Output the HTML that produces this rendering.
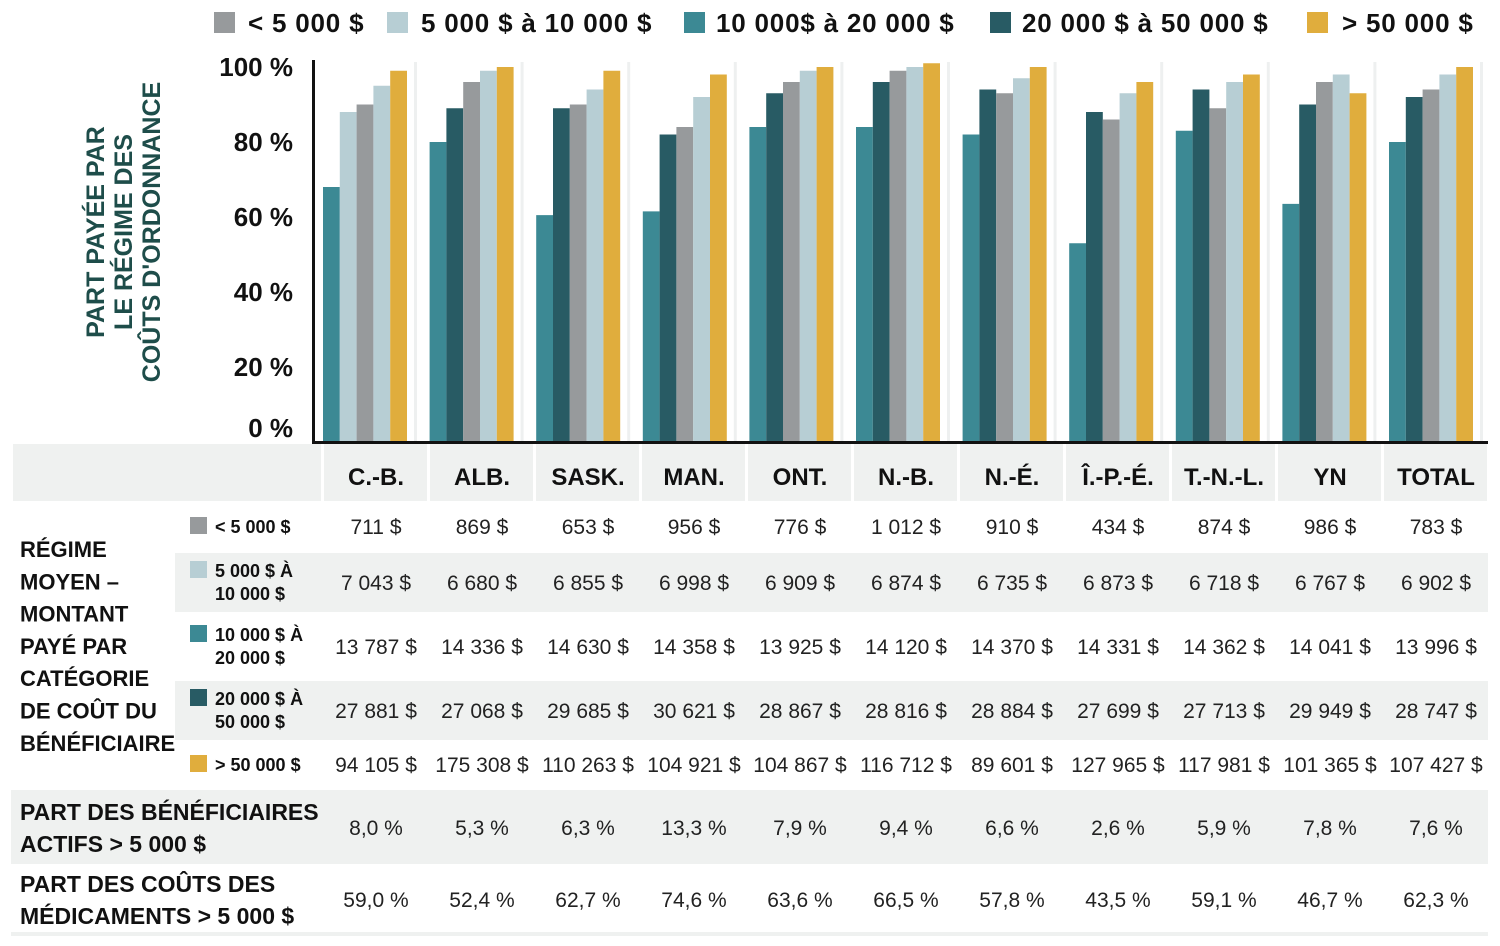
<!DOCTYPE html>
<html><head><meta charset="utf-8"><style>
html,body{margin:0;padding:0;background:#fff;}
svg{display:block;font-family:"Liberation Sans",sans-serif;}
.lbl{font-weight:bold;fill:#111;}
.val{fill:#222;font-size:21px;}
</style></head><body>
<svg id="chart" width="1500" height="946" viewBox="0 0 1500 946"></svg>
<script>
const categories=["C.-B.","ALB.","SASK.","MAN.","ONT.","N.-B.","N.-É.","Î.-P.-É.","T.-N.-L.","YN","TOTAL"];
const seriesNames=["10 000$ à 20 000 $","20 000 $ à 50 000 $","< 5 000 $","5 000 $ à 10 000 $","> 50 000 $"];
const s10to20=[68,80,60.5,61.5,84,84,82,53,83,63.5,80];
const s20to50=[88,89,89,82,93,96,94,88,94,90,92];
const sLt5000=[90,96,90,84,96,99,93,86,89,96,94];
const s5to10=[95,99,94,92,99,100,97,93,96,98,98];
const sGt50=[99,100,99,98,100,101,100,96,98,93,100];
const yTicks=[0,20,40,60,80,100];
const rowLt5=["711 $","869 $","653 $","956 $","776 $","1 012 $","910 $","434 $","874 $","986 $","783 $"];
const row5to10=["7 043 $","6 680 $","6 855 $","6 998 $","6 909 $","6 874 $","6 735 $","6 873 $","6 718 $","6 767 $","6 902 $"];
const row10to20=["13 787 $","14 336 $","14 630 $","14 358 $","13 925 $","14 120 $","14 370 $","14 331 $","14 362 $","14 041 $","13 996 $"];
const row20to50=["27 881 $","27 068 $","29 685 $","30 621 $","28 867 $","28 816 $","28 884 $","27 699 $","27 713 $","29 949 $","28 747 $"];
const rowGt50=["94 105 $","175 308 $","110 263 $","104 921 $","104 867 $","116 712 $","89 601 $","127 965 $","117 981 $","101 365 $","107 427 $"];
const rowBenef=["8,0 %","5,3 %","6,3 %","13,3 %","7,9 %","9,4 %","6,6 %","2,6 %","5,9 %","7,8 %","7,6 %"];
const rowCouts=["59,0 %","52,4 %","62,7 %","74,6 %","63,6 %","66,5 %","57,8 %","43,5 %","59,1 %","46,7 %","62,3 %"];

const C={teal:"#3c8994",dark:"#285b64",gray:"#979a9c",light:"#b7ced4",gold:"#e0ad3d"};
const seriesColors=[C.teal,C.dark,C.gray,C.light,C.gold];
const svg=document.getElementById('chart');
const NS="http://www.w3.org/2000/svg";
function mk(tag,attrs,parent){const e=document.createElementNS(NS,tag);for(const k in attrs)e.setAttribute(k,attrs[k]);(parent||svg).appendChild(e);return e;}
function txt(s,attrs,parent){const e=mk('text',attrs,parent);e.textContent=s;return e;}
const yScale=v=>442-3.75*v;
const groupX=i=>323+i*106.6;
const colCenter=i=>376+i*106;
const barW=16.8;

for(let i=0;i<categories.length;i++){
  const s=mk('rect',{x:groupX(i)+91,y:62,width:3,height:380,fill:"#eef0f0"});
  
  
}
const allSeries=[s10to20,s20to50,sLt5000,s5to10,sGt50];
const keys=["10-20k","20-50k","lt5k","5-10k","gt50k"];
allSeries.forEach((arr,si)=>{
  arr.forEach((v,ci)=>{
    let col=seriesColors[si];
    if(si===1&&ci===0) col=C.light;
    const r=mk('rect',{x:groupX(ci)+si*barW,y:yScale(v),width:barW,height:442-yScale(v),fill:col});
    
    
  });
});
const ya=mk('rect',{x:312,y:60,width:3,height:385,fill:"#111"});

const xa=mk('rect',{x:312,y:441,width:1176,height:4,fill:"#111"});

yTicks.forEach(t=>{
  const e=txt(t+" %",{x:293,y:Math.min(yScale(t),428)+9,'text-anchor':'end','font-size':26,class:'lbl'});
  
  
});
const yt=mk('text',{transform:'translate(122,232) rotate(-90)','text-anchor':'middle','font-size':25,'font-weight':'bold',fill:'#1e4d4a'});

["PART PAYÉE PAR","LE RÉGIME DES","COÛTS D'ORDONNANCE"].forEach((l,i)=>{const ts=mk('tspan',{x:0,y:-18+i*28},yt);ts.textContent=l;});

const legItems=[[214,248,C.gray,"< 5 000 $"],[387,421,C.light,"5 000 $ à 10 000 $"],[684,716,C.teal,"10 000$ à 20 000 $"],[990,1022,C.dark,"20 000 $ à 50 000 $"],[1307,1342,C.gold,"> 50 000 $"]];
const lg=mk('g',{});
legItems.forEach(([sx,tx,c,l])=>{
  const g=mk('g',{},lg);
  
  
  mk('rect',{x:sx,y:12,width:21,height:21,fill:c},g);
  txt(l,{x:tx,y:32,'font-size':26,class:'lbl','letter-spacing':'0.8'},g);
});

const BG="#eff1f0";
mk('rect',{x:13,y:444,width:1475,height:57,fill:BG});
mk('rect',{x:175,y:553,width:1313,height:59,fill:BG});
mk('rect',{x:175,y:681,width:1313,height:59,fill:BG});
mk('rect',{x:11,y:790,width:1477,height:74,fill:BG});
mk('rect',{x:11,y:932,width:1477,height:4,fill:BG});
for(let i=0;i<=categories.length;i++){mk('rect',{x:321+i*106,y:444,width:3,height:57,fill:"#fff"});}
categories.forEach((c,i)=>{
  const e=txt(c,{x:colCenter(i),y:485,'text-anchor':'middle','font-size':24,class:'lbl'});
  
  
});
const lb=mk('text',{'font-size':22,class:'lbl'});

["RÉGIME","MOYEN –","MONTANT","PAYÉ PAR","CATÉGORIE","DE COÛT DU","BÉNÉFICIAIRE"].forEach((l,i)=>{const ts=mk('tspan',{x:20,y:557+i*32.3},lb);ts.textContent=l;});
const rowDefs=[
 [526,C.gray,["< 5 000 $"],rowLt5],
 [582,C.light,["5 000 $ À","10 000 $"],row5to10],
 [646,C.teal,["10 000 $ À","20 000 $"],row10to20],
 [710,C.dark,["20 000 $ À","50 000 $"],row20to50],
 [764,C.gold,["> 50 000 $"],rowGt50]];
rowDefs.forEach(([cy,c,lab,vals])=>{
  const g=mk('g',{});
  
  
  const sq=lab.length>1?cy-21:cy-9;
  mk('rect',{x:190,y:sq,width:17,height:17,fill:c},g);
  lab.forEach((l,i)=>txt(l,{x:215,y:(lab.length>1?cy-5:cy+7)+i*23,'font-size':18,class:'lbl'},g));
  vals.forEach((v,i)=>txt(v,{x:colCenter(i),y:cy+8,'text-anchor':'middle',class:'val'},g));
});
[[827,["PART DES BÉNÉFICIAIRES","ACTIFS > 5 000 $"],rowBenef],[899,["PART DES COÛTS DES","MÉDICAMENTS > 5 000 $"],rowCouts]].forEach(([cy,lab,vals])=>{
  const g=mk('g',{});
  
  
  lab.forEach((l,i)=>txt(l,{x:20,y:cy-7+i*32,'font-size':23,class:'lbl'},g));
  vals.forEach((v,i)=>txt(v,{x:colCenter(i),y:cy+8,'text-anchor':'middle',class:'val'},g));
});
</script>
</body></html>
